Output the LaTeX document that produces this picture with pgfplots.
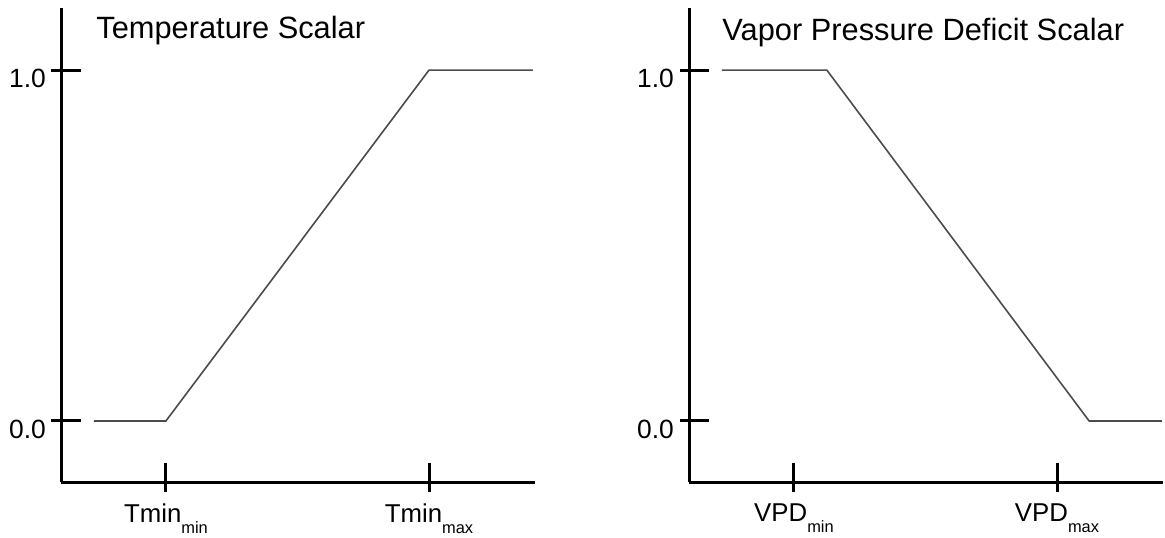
\documentclass[border=0pt]{standalone}
\usepackage{fontspec}
\setmainfont{Liberation Sans}
\usepackage{pgfplots}
\pgfplotsset{compat=1.18}
\newcommand{\sub}[1]{\raisebox{-0.42em}{\fontsize{8.2}{8}\selectfont #1}}
\begin{document}
\begin{tikzpicture}
\useasboundingbox (0,0) rectangle (582.5pt,268.5pt);
\pgfplotsset{
  myaxis/.style={
    scale only axis, width=237pt, height=237pt,
    xmin=-0.399, xmax=1.403, ymin=-0.174, ymax=1.177,
    axis lines=left,
    axis line style={-, line width=1.5pt, black},
    tick align=center,
    major tick length=14.5pt,
    ytick={0,1}, yticklabels={0.0,1.0},
    xtick={0,1},
    ytick style={line width=1.5pt, black, xshift=2.5pt},
    xtick style={line width=1.5pt, black, yshift=2.25pt},
    yticklabel style={font=\fontsize{13.2}{14}\selectfont, yshift=-4pt, xshift=3.2pt},
    xticklabel style={font=\fontsize{12.9}{14}\selectfont},
    clip=false,
  }
}
\begin{axis}[myaxis, at={(30.5pt,27.5pt)}, anchor=south west,
  xticklabels={Tmin\sub{min}, Tmin\sub{max}}]
\addplot[line width=0.8pt, black!70] coordinates {(-0.274,0) (0,0) (1,1) (1.395,1)};
\node[anchor=base west, font=\fontsize{15.4}{16}\selectfont, inner sep=0pt] at (rel axis cs:0.0738,0.935) {Temperature Scalar};
\end{axis}
\begin{axis}[myaxis, at={(344.5pt,27.5pt)}, anchor=south west,
  xticklabels={VPD\sub{min}, VPD\sub{max}}]
\addplot[line width=0.8pt, black!70] coordinates {(-0.274,1) (0.125,1) (1.122,0) (1.399,0)};
\node[anchor=base west, font=\fontsize{15.4}{16}\selectfont, inner sep=0pt] at (rel axis cs:0.0696,0.932) {Vapor Pressure Deficit Scalar};
\end{axis}
\end{tikzpicture}
\end{document}
